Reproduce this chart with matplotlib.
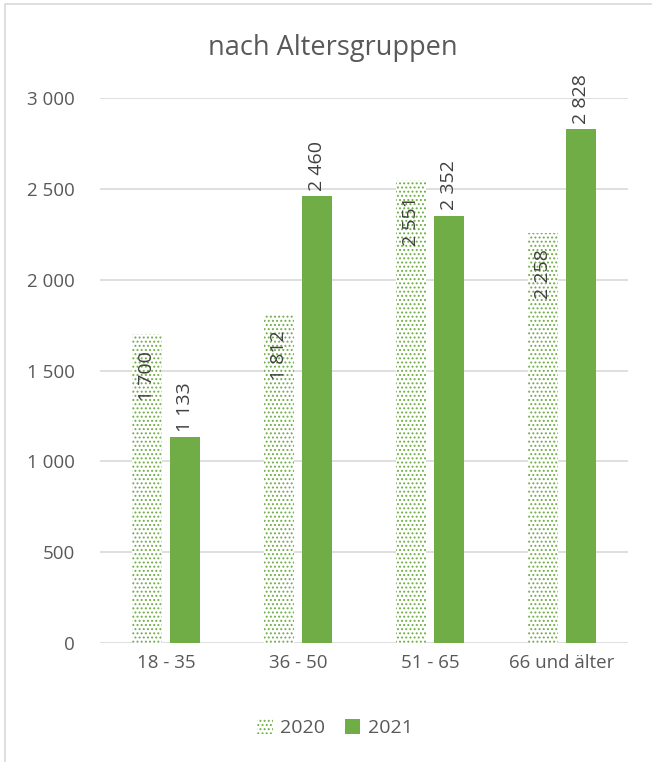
import matplotlib.pyplot as plt
import numpy as np
from matplotlib.patches import Rectangle, Patch

plt.rcParams['font.family'] = ['Open Sans', 'DejaVu Sans']
plt.rcParams['hatch.linewidth'] = 0.9

groups = ['18 - 35', '36 - 50', '51 - 65', '66 und älter']
v2020 = [1700, 1812, 2551, 2258]
v2021 = [1133, 2460, 2352, 2828]

green = '#70AD47'
grey = '#595959'


def fmt(v):
    return '{:,}'.format(v).replace(',', ' ')


fig = plt.figure(figsize=(6.52, 7.62), dpi=100)
ax = fig.add_axes([100 / 652, 1 - 643 / 762, 528 / 652, 545 / 762])

x = np.arange(len(groups))
w = 0.227
off = 0.144

b1 = ax.bar(x - off, v2020, w, color='white', edgecolor=green, hatch='....', linewidth=0, zorder=2)
b2 = ax.bar(x + off, v2021, w, color=green, zorder=2)

for r, v in zip(b1, v2020):
    ax.annotate(fmt(v), (r.get_x() + r.get_width() / 2, v), xytext=(0, -12), textcoords='offset points',
                rotation=90, ha='center', va='top', fontsize=14, color='#404040', zorder=3)
for r, v in zip(b2, v2021):
    ax.annotate(fmt(v), (r.get_x() + r.get_width() / 2, v), xytext=(0, 4), textcoords='offset points',
                rotation=90, ha='center', va='bottom', fontsize=14, color='#404040', annotation_clip=False)

ax.set_xlim(-0.5, 3.5)
ax.set_ylim(0, 3000)
ax.set_yticks(range(0, 3001, 500))
ax.set_yticklabels([fmt(t) for t in range(0, 3001, 500)])
ax.set_xticks(x)
ax.set_xticklabels(groups)
ax.tick_params(length=0, labelsize=13.5, colors=grey, pad=8)
ax.tick_params(axis='y', pad=18)
ax.yaxis.grid(True, color='#D9D9D9', linewidth=1.2)
ax.set_axisbelow(True)
for s in ax.spines.values():
    s.set_visible(False)

fig.text(333 / 652, 1 - 48 / 762, 'nach Altersgruppen', ha='center', va='center', fontsize=19.5, color=grey)

handles = [Patch(facecolor='white', edgecolor=green, hatch='....', linewidth=0, label='2020'),
           Patch(facecolor=green, label='2021')]
fig.legend(handles=handles, loc='center', bbox_to_anchor=(335 / 652, 1 - 728 / 762), ncol=2, frameon=False,
           fontsize=14, handlelength=0.8, handleheight=0.8, handletextpad=0.4, columnspacing=1.0,
           labelcolor=grey)

fig.patches.append(Rectangle((5 / 652, -0.1), 1.2, 1.1 - 4 / 762, transform=fig.transFigure,
                             fill=False, edgecolor='#D9D9D9', linewidth=1.2))

fig.savefig('out.png', dpi=100)
